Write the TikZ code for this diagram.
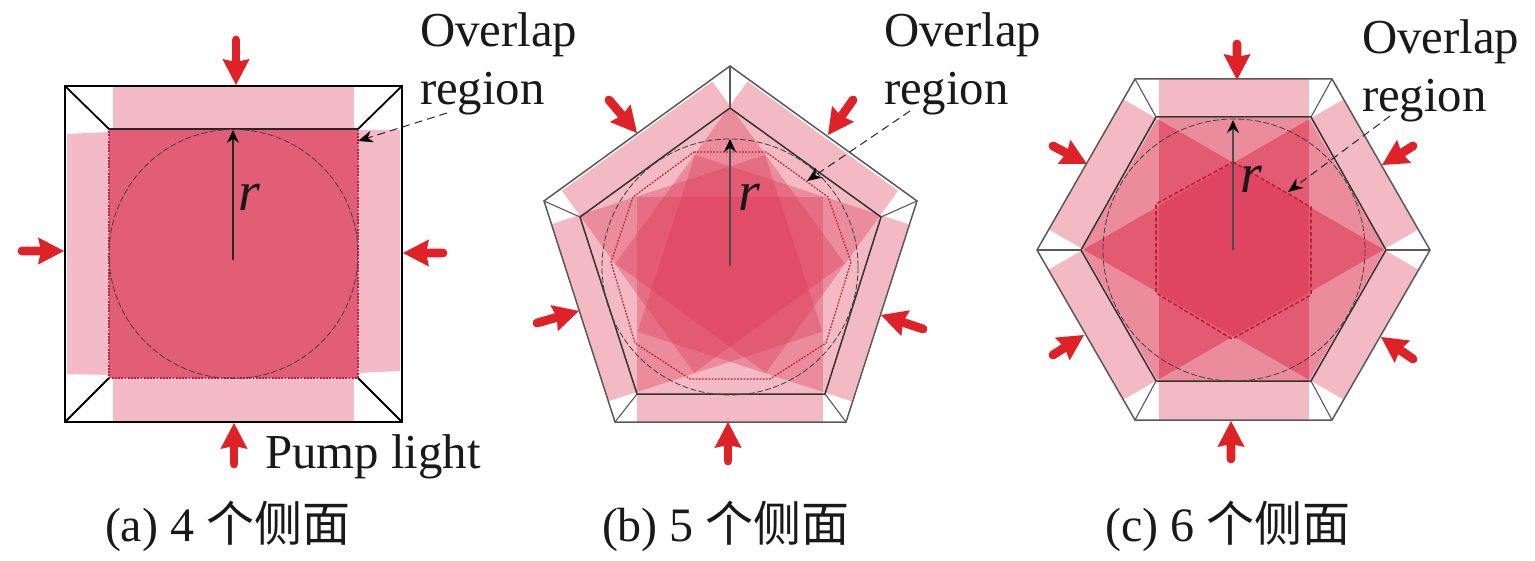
\documentclass[tikz,border=0pt]{standalone}
\usepackage{fontspec}
\setmainfont{Liberation Serif}
\newfontfamily\cjkf{Noto Sans CJK SC}
\usetikzlibrary{calc,arrows.meta}
\definecolor{bandred}{RGB}{222,54,84}
\definecolor{lightpink}{RGB}{245,186,200}
\definecolor{coredark}{RGB}{226,94,118}
\definecolor{pumpred}{RGB}{222,34,40}
\definecolor{dotred}{RGB}{190,30,50}
\tikzset{
  x=0.5pt,y=-0.5pt,
  band/.style={fill=bandred,fill opacity=.34,draw=none},
  flatband/.style={fill=lightpink,draw=none},
  edgea/.style={draw=black,line width=1.1pt,line join=miter},
  spokea/.style={draw=black,line width=.9pt},
  edgeb/.style={draw=black!65,line width=.75pt,line join=miter},
  inneredge/.style={draw=black!80,line width=.75pt,line join=miter},
  incircle/.style={draw=black!75,line width=.4pt,dash pattern=on 3pt off 1.2pt},
  dotline/.style={draw=dotred,line width=.6pt,dash pattern=on .9pt off .7pt},
  radius arrow/.style={draw=black!85,line width=.75pt,-{Stealth[length=6.5pt,width=6pt,fill=black,color=black]}},
  leader/.style={draw=black!85,line width=.5pt,dash pattern=on 4pt off 2.5pt,-{Stealth[length=7.5pt,width=6pt,color=black]}},
  lab/.style={font=\fontsize{24.4}{24.4}\selectfont,text=black!90,anchor=base west,inner sep=0pt,outer sep=0pt},
  captlab/.style={font=\fontsize{24}{24}\selectfont,text=black!90,anchor=base west,inner sep=0pt,outer sep=0pt},
  rlab/.style={font=\fontsize{28}{28}\selectfont\itshape,text=black!90,anchor=base west,inner sep=0pt},
}
\newcommand{\pump}[2]{%
  \draw[pumpred,line width=4.4pt,line cap=round] (#1) -- ($(#1)!.55!(#2)$);
  \fill[pumpred] (#2) -- ($($(#2)!13pt!(#1)$)!6.8pt!90:(#2)$) -- ($(#2)!11.5pt!(#1)$) -- ($($(#2)!13pt!(#1)$)!6.8pt!-90:(#2)$) -- cycle;
}
\newcommand{\capt}[1]{#1 {\cjkf 个侧面}}
\begin{document}
\begin{tikzpicture}
\useasboundingbox (0,0) rectangle (1535,561);
\fill[white] (0,0) rectangle (1535,561);

%% ---------- panel (a)
\fill[flatband] (113,87) rectangle (354,129);
\fill[flatband] (113,378) rectangle (354,421);
\fill[flatband] (67,134) -- (109,132) -- (109,375) -- (67,374) -- cycle;
\fill[flatband] (358,130) -- (400,130) -- (400,371) -- (358,373) -- cycle;
\fill[coredark] (109,129) rectangle (358,378);
\coordinate (aO1) at (65,86); \coordinate (aO2) at (402,86);
\coordinate (aO3) at (402,422); \coordinate (aO4) at (65,422);
\coordinate (aI1) at (109,129); \coordinate (aI2) at (358,129);
\coordinate (aI3) at (358,378); \coordinate (aI4) at (109,378);
\draw[dotline] (aI1) -- (aI2) -- (aI3) -- (aI4) -- cycle;
\draw[black!85,line width=.6pt] (aI1) -- (aI2);
\draw[edgea] (aO1) -- (aO2) -- (aO3) -- (aO4) -- cycle;
\foreach \i in {1,2,3,4} \draw[spokea] (aO\i) -- (aI\i);
\draw[incircle] (233.5,254) circle [radius=124.5];
\coordinate (aC) at (233,260); \coordinate (aT) at (233,130);
\draw[radius arrow] (aC) -- (aT);
\node[rlab] (ar) at (238,211) {r};
\pump{236,40}{236,85}
\pump{22,251}{64,251}
\pump{443,253}{403,253}
\pump{234,464}{234,423}
\node[lab] (aov) at (420,46.5) {Overlap};
\node[lab] (are) at (420,104.5) {region};
\node[lab] (apl) at (265,468) {Pump light};
\coordinate (aL1) at (447,113); \coordinate (aL2) at (358,141);
\draw[leader] (aL1) -- (aL2);
\node[captlab] (acap) at (105,541) {\capt{(a) 4}};

%% ---------- panel (b)
\foreach \a in {0,72,144,216,288}
  \fill[band,shift={(730,264)},rotate=\a] (-93,158) rectangle (93,-67);
\coordinate (bO1) at (730,66); \coordinate (bO2) at (917,201);
\coordinate (bO3) at (846,422); \coordinate (bO4) at (615,422);
\coordinate (bO5) at (544,201);
\coordinate (bI1) at (730,108); \coordinate (bI2) at (881,217);
\coordinate (bI3) at (825,394); \coordinate (bI4) at (637,394);
\coordinate (bI5) at (580,217);
\draw[dotline] (694,152) -- (766,152) -- (828,197) -- (851,262) -- (826,343) -- (770,379) -- (690,379) -- (635,343) -- (611,262) -- (633,197) -- cycle;
\draw[inneredge] (bI1) -- (bI2) -- (bI3) -- (bI4) -- (bI5) -- cycle;
\draw[edgeb] (bO1) -- (bO2) -- (bO3) -- (bO4) -- (bO5) -- cycle;
\foreach \i in {1,...,5} \draw[edgeb,line width=.55pt] (bO\i) -- (bI\i);
\draw[incircle] (730,267) circle [radius=128];
\coordinate (bC) at (730,266); \coordinate (bT) at (730,139);
\draw[radius arrow,draw=black!70,line width=.9pt] (bC) -- (bT);
\node[rlab] (br) at (738,211) {r};
\pump{609,100}{637,133}
\pump{853,100}{828,135}
\pump{537,323}{579,311}
\pump{923,329}{881,315}
\pump{728,461}{728,422}
\node[lab] (bov) at (884,46.5) {Overlap};
\node[lab] (bre) at (884,104.5) {region};
\coordinate (bL1) at (910,111); \coordinate (bL2) at (807,181);
\draw[leader] (bL1) -- (bL2);
\node[captlab] (bcap) at (602,541) {\capt{(b) 5}};

%% ---------- panel (c)
\foreach \a in {0,60,120,180,240,300}
  \fill[band,shift={(1233.5,249.5)},rotate=\a] (-75,170) rectangle (75,-131);
\coordinate (cO1) at (1135,79); \coordinate (cO2) at (1332,79);
\coordinate (cO3) at (1430,250); \coordinate (cO4) at (1332,420);
\coordinate (cO5) at (1135,420); \coordinate (cO6) at (1037,250);
\coordinate (cI1) at (1156,117); \coordinate (cI2) at (1311,117);
\coordinate (cI3) at (1386,250); \coordinate (cI4) at (1311,381);
\coordinate (cI5) at (1156,381); \coordinate (cI6) at (1081,250);
\draw[dotred,line width=.8pt,dash pattern=on 2pt off 1.2pt] (1233,162) -- (1311,207) -- (1311,295) -- (1232,339) -- (1156,293) -- (1156,204) -- cycle;
\draw[inneredge] (cI1) -- (cI2) -- (cI3) -- (cI4) -- (cI5) -- (cI6) -- cycle;
\draw[edgeb] (cO1) -- (cO2) -- (cO3) -- (cO4) -- (cO5) -- (cO6) -- cycle;
\foreach \i in {1,...,6} \draw[edgeb,line width=.55pt] (cO\i) -- (cI\i);
\draw[incircle] (1234,250) circle [radius=131];
\coordinate (cC) at (1233,250); \coordinate (cT) at (1233,120);
\draw[radius arrow,draw=black!70,line width=.9pt] (cC) -- (cT);
\node[rlab] (cr) at (1240,193) {r};
\pump{1237,44}{1237,80}
\pump{1053,146}{1087,164}
\pump{1413,146}{1382,165}
\pump{1053,355}{1084,335}
\pump{1413,359}{1381,337}
\pump{1231,459}{1231,421}
\node[lab] (cov) at (1362,53.5) {Overlap};
\node[lab] (cre) at (1362,111.5) {region};
\coordinate (cL1) at (1390,116); \coordinate (cL2) at (1288,192);
\draw[leader] (cL1) -- (cL2);
\node[captlab] (ccap) at (1105,541) {\capt{(c) 6}};
\end{tikzpicture}
\end{document}
